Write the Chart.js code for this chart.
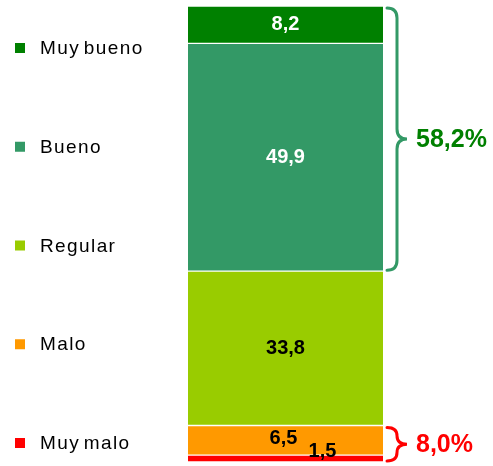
<!DOCTYPE html>
<html>
<head>
<meta charset="utf-8">
<script src="https://cdn.jsdelivr.net/npm/chart.js@4"></script>
<style>
  html, body { margin: 0; padding: 0; background: #fff; }
  #wrap { width: 493px; height: 466px; }
</style>
</head>
<body>
<div id="wrap"><canvas id="chart" width="493" height="466"></canvas></div>
<script>
// categories top to bottom, as in the legend
const categories = ['Muy bueno', 'Bueno', 'Regular', 'Malo', 'Muy malo'];
const values = [8.2, 49.9, 33.8, 6.5, 1.5];
const valueLabels = ['8,2', '49,9', '33,8', '6,5', '1,5'];
const colors = ['#008000', '#339966', '#99CC00', '#FF9900', '#FF0000'];
const labelColors = ['#ffffff', '#ffffff', '#000000', '#000000', '#000000'];

// braces on the right
const braceGroups = [['Muy bueno', 'Bueno'], ['Malo', 'Muy malo']];
const braceLabels = ['58,2%', '8,0%'];
const braceColors = ['#339966', '#FF0000'];
const braceTextColors = ['#008000', '#FF0000'];

const total = values.reduce((a, b) => a + b, 0);

// stack from the bottom up
const datasets = categories.map((name, i) => ({
  label: name,
  data: [values[i]],
  backgroundColor: colors[i],
  borderColor: '#ffffff',
  borderWidth: { top: 1, bottom: 1, left: 0, right: 0 },
  borderSkipped: false,
  barPercentage: 1,
  categoryPercentage: 1
})).reverse();

function segBounds(chart, name) {
  const idx = chart.data.datasets.findIndex(d => d.label === name);
  const bar = chart.getDatasetMeta(idx).data[0];
  return { top: Math.min(bar.y, bar.base), bottom: Math.max(bar.y, bar.base), x: bar.x, w: bar.width };
}

const sideLegend = {
  id: 'sideLegend',
  afterDraw(chart) {
    const ctx = chart.ctx;
    ctx.save();
    ctx.font = '19px "Liberation Sans", Arial, sans-serif';
    ctx.letterSpacing = '1.4px';
    ctx.wordSpacing = '-3px';
    ctx.textBaseline = 'middle';
    ctx.textAlign = 'left';
    const y0 = 48, step = 98.75;
    categories.forEach((name, i) => {
      const y = y0 + i * step;
      ctx.fillStyle = colors[i];
      ctx.fillRect(15, y - 5, 10, 10);
      ctx.fillStyle = '#000';
      ctx.fillText(name, 40, y + 1);
    });
    ctx.restore();
  }
};

const barLabels = {
  id: 'barLabels',
  afterDatasetsDraw(chart) {
    const ctx = chart.ctx;
    ctx.save();
    ctx.font = 'bold 20px "Liberation Sans", Arial, sans-serif';
    ctx.textAlign = 'center';
    ctx.textBaseline = 'middle';
    categories.forEach((name, i) => {
      const b = segBounds(chart, name);
      let x = b.x, y = (b.top + b.bottom) / 2;
      if (name === 'Malo') { x -= 2; y -= 2; }
      if (name === 'Muy malo') { x += 37; y -= 7; }
      ctx.fillStyle = labelColors[i];
      ctx.fillText(valueLabels[i], x, y);
    });
    ctx.restore();
  }
};

function drawBrace(ctx, x, yTop, yBot, w) {
  const mid = (yTop + yBot) / 2;
  const r = Math.min(w / 2, (yBot - yTop) / 4);
  const xm = x + w / 2;
  ctx.beginPath();
  ctx.moveTo(x, yTop);
  ctx.quadraticCurveTo(xm, yTop, xm, yTop + r);
  ctx.lineTo(xm, mid - r);
  ctx.quadraticCurveTo(xm, mid, x + w, mid);
  ctx.quadraticCurveTo(xm, mid, xm, mid + r);
  ctx.lineTo(xm, yBot - r);
  ctx.quadraticCurveTo(xm, yBot, x, yBot);
  ctx.stroke();
}

const braces = {
  id: 'braces',
  afterDraw(chart) {
    const ctx = chart.ctx;
    ctx.save();
    braceGroups.forEach((grp, i) => {
      const bs = grp.map(n => segBounds(chart, n));
      const top = Math.min(...bs.map(b => b.top)) + 2;
      const bottom = Math.max(...bs.map(b => b.bottom)) - 1;
      const x = bs[0].x + bs[0].w / 2 + 4;
      ctx.strokeStyle = braceColors[i];
      ctx.lineWidth = 3;
      ctx.lineCap = 'round';
      drawBrace(ctx, x, top, bottom, 20);
      ctx.fillStyle = braceTextColors[i];
      ctx.font = 'bold 25px "Liberation Sans", Arial, sans-serif';
      ctx.textAlign = 'left';
      ctx.textBaseline = 'middle';
      ctx.fillText(braceLabels[i], x + 29, (top + bottom) / 2 + 1);
    });
    ctx.restore();
  }
};

new Chart(document.getElementById('chart'), {
  type: 'bar',
  data: { labels: [''], datasets },
  options: {
    responsive: false,
    animation: false,
    layout: { padding: { left: 188, right: 110, top: 6, bottom: 4 } },
    plugins: { legend: { display: false }, tooltip: { enabled: false } },
    scales: {
      x: { stacked: true, display: false },
      y: { stacked: true, display: false, min: 0, max: total }
    }
  },
  plugins: [sideLegend, barLabels, braces]
});
</script>
</body>
</html>
